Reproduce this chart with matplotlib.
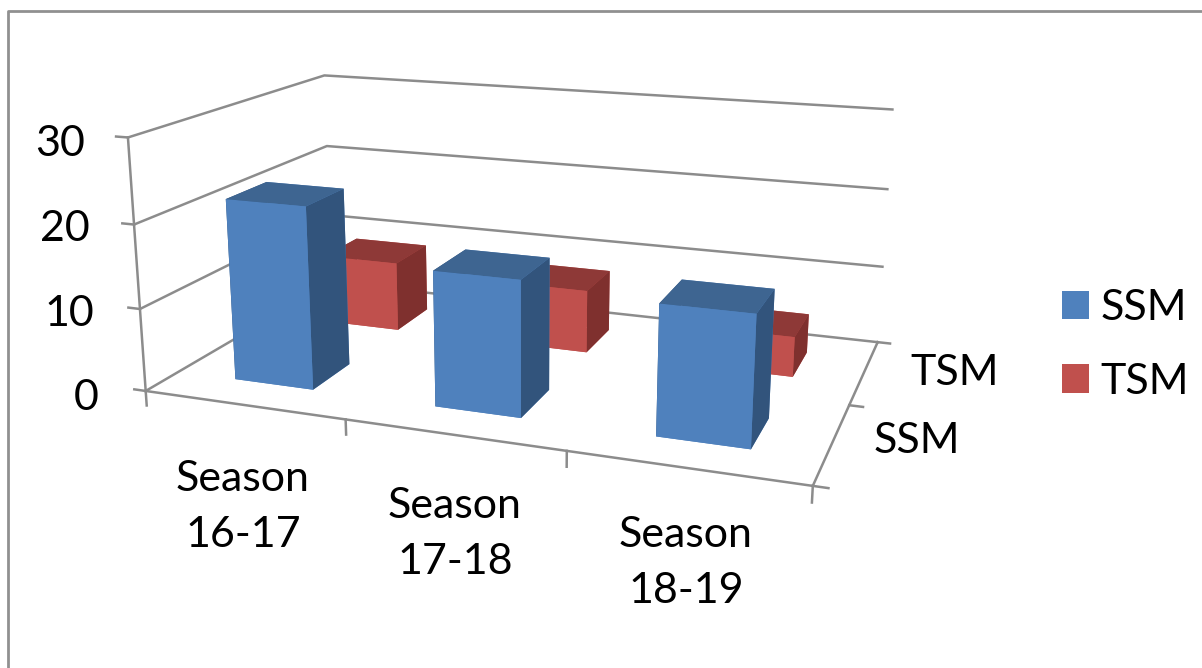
import matplotlib
matplotlib.use("Agg")
import matplotlib.pyplot as plt
from matplotlib.patches import Patch
from matplotlib.lines import Line2D

W, H = 1202, 668

seasons = ["Season\n16-17", "Season\n17-18", "Season\n18-19"]
series = ["SSM", "TSM"]
ssm_values = [22, 16, 15]
tsm_values = [9, 8, 5]
z_ticks = [0, 10, 20, 30]

GRID = "#8c8c8c"
BLUE_FACES = ["#4F81BD", "#3E6591", "#4F81BD", "#4F81BD", "#32547C", "#32547C"]
RED_FACES = ["#C0504D", "#8E3937", "#C0504D", "#C0504D", "#7F302E", "#7F302E"]
BAR_W = 0.40
BAR_D = 0.40
CAM_SIZE = 1202
CAM_CX, CAM_CY = 512, 263


def px(x, y):
    return x / W, 1 - y / H


plt.rcParams["font.family"] = ["Lato", "DejaVu Sans"]
fig = plt.figure(figsize=(W / 100, H / 100), dpi=100)
ax = fig.add_axes([(CAM_CX - CAM_SIZE / 2) / W, 1 - (CAM_CY + CAM_SIZE / 2) / H, CAM_SIZE / W, CAM_SIZE / H],
                  projection="3d", computed_zorder=False)
ax.set_proj_type("persp", focal_length=0.236)
ax.view_init(elev=15.3, azim=-69.9)
ax.set_box_aspect((3.0, 1.82, 1.16), zoom=0.647)
ax.set_xlim(-0.5, 2.5, view_margin=0)
ax.set_ylim(-0.5, 1.5, view_margin=0)
ax.set_zlim(0, 30, view_margin=0)
ax.set_axis_off()
ax.patch.set_alpha(0)

# back wall and side wall lines
for z in z_ticks:
    ax.plot([-0.5, -0.5, 2.5], [-0.5, 1.5, 1.5], [z, z, z], color=GRID, lw=1.8, zorder=1)
    ax.plot([-0.56, -0.5], [-0.5, -0.5], [z, z], color=GRID, lw=1.8, zorder=1)
ax.plot([-0.5, -0.5], [-0.5, -0.5], [0, 30], color=GRID, lw=1.8, zorder=1)
ax.plot([-0.5, 2.5, 2.5], [-0.5, -0.5, 1.5], [0, 0, 0], color=GRID, lw=1.8, zorder=1)

# category and depth tick marks
for x in [-0.5, 0.5, 1.5, 2.5]:
    ax.plot([x, x], [-0.5, -0.5], [0, -1.8], color=GRID, lw=1.8, zorder=1)
for y in [-0.5, 0.5, 1.5]:
    ax.plot([2.5, 2.56], [y, y], [0, 0], color=GRID, lw=1.8, zorder=1)

xs = list(range(len(seasons)))
ax.bar3d([x - BAR_W / 2 for x in xs], [1 - BAR_D / 2] * 3, [0] * 3, BAR_W, BAR_D, tsm_values,
         color=RED_FACES * 3, shade=False, linewidth=0, zorder=2)
ax.bar3d([x - BAR_W / 2 for x in xs], [-BAR_D / 2] * 3, [0] * 3, BAR_W, BAR_D, ssm_values,
         color=BLUE_FACES * 3, shade=False, linewidth=0, zorder=3)

# axis labels
for value, pos in zip(z_ticks, [(99, 398), (94, 314), (90, 229), (85, 144)]):
    fig.text(*px(*pos), str(value), fontsize=31, ha="right", va="center", color="black")
for label, pos in zip(seasons, [(243, 507), (455, 534), (686, 563)]):
    fig.text(*px(*pos), label, fontsize=31, ha="center", va="center", linespacing=1.58, color="black")
fig.text(*px(955, 373), series[1], fontsize=31, ha="center", va="center", color="black")
fig.text(*px(917, 441), series[0], fontsize=31, ha="center", va="center", color="black")

handles = [Patch(facecolor=BLUE_FACES[0], label=series[0]), Patch(facecolor=RED_FACES[0], label=series[1])]
fig.legend(handles=handles, loc="center left", bbox_to_anchor=px(1062, 345), frameon=False, fontsize=31,
           handlelength=0.63, handleheight=0.63, handletextpad=0.27, labelspacing=0.82, borderpad=0, borderaxespad=0)

# chart frame along the top and left edges
fig.add_artist(Line2D([8 / W, 8 / W, 1], [0, 1 - 11 / H, 1 - 11 / H], color="#909090", lw=2))

fig.savefig("out.png", dpi=100)
